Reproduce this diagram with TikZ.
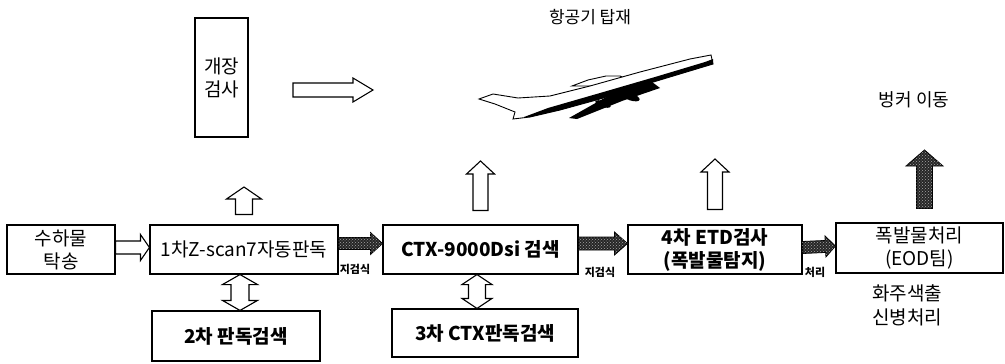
\documentclass[tikz,border=0pt]{standalone}
\usepackage{fontspec}
\newfontfamily\kr{Noto Sans CJK KR}
\usetikzlibrary{calc,patterns}

% block arrow #2 -> #3: half body #4, half head #5, head length #6
\newcommand\blockarrow[6][blockw]{%
 \draw[#1] let \p1=#2, \p2=#3, \n1={atan2(\y2-\y1,\x2-\x1)}, \n2={veclen(\x2-\x1,\y2-\y1)} in
  [shift={(\p1)},rotate=\n1]
  (0pt,#4) -- ({\n2*1pt-#6},#4) -- ({\n2*1pt-#6},#5) -- ({\n2*1pt},0pt)
  -- ({\n2*1pt-#6},-#5) -- ({\n2*1pt-#6},-#4) -- (0pt,-#4) -- cycle;}
% same with a head at both ends
\newcommand\blockdbl[6][blockw]{%
 \draw[#1] let \p1=#2, \p2=#3, \n1={atan2(\y2-\y1,\x2-\x1)}, \n2={veclen(\x2-\x1,\y2-\y1)} in
  [shift={(\p1)},rotate=\n1]
  (0pt,0pt) -- (#6,#5) -- (#6,#4) -- ({\n2*1pt-#6},#4) -- ({\n2*1pt-#6},#5) -- ({\n2*1pt},0pt)
  -- ({\n2*1pt-#6},-#5) -- ({\n2*1pt-#6},-#4) -- (#6,-#4) -- (#6,-#5) -- cycle;}

\begin{document}
\begin{tikzpicture}[x=1pt,y=-1pt,
 every node/.style={font=\kr},
 box/.style={draw,line width=1.1pt,inner sep=0pt,align=center,font=\kr\fontsize{19}{23}\selectfont},
 blockw/.style={draw,line width=1.1pt,fill=white},
 blockd/.style={draw,line width=.8pt,fill=black!85,postaction={pattern=crosshatch dots,pattern color=black!35}},
 tag/.style={font=\kr\bfseries\fontsize{11}{13}\selectfont}]
\useasboundingbox (0,0) rectangle (1005,364);

% upper part
\node[box,minimum width=53,minimum height=119] (gj) at (221.5,77.5) {개장\\검사};
\node[font=\kr\fontsize{17}{20}\selectfont] (load) at (590,17) {항공기 탑재};
\node[font=\kr\fontsize{18}{21}\selectfont] (bunker) at (914,100) {벙커 이동};
\coordinate (ga) at (293,90); \coordinate (gb) at (373,90);
\blockarrow{(ga)}{(gb)}{7pt}{12pt}{20pt}

% airplane: far wing, body, dark belly, near wing, engines
\filldraw[line width=.9pt,fill=white] (572,86) -- (588,80) -- (606,76) -- (620,76) -- (626,79) -- (596,86) -- cycle;
\filldraw[line width=.9pt,fill=white] (479,99) -- (493,94) -- (518,98) -- (550,96) -- (590,86) -- (640,72)
 -- (690,59) -- (711,55) -- (713,64) -- (650,83) -- (600,99) -- (560,110) -- (530,117)
 -- (513,119) -- (515,112) -- (495,104) -- cycle;
\fill (713,59) -- (713,64) -- (650,83) -- (600,99) -- (560,110) -- (530,117) -- (524,117)
 -- (548,108) -- (600,93) -- (655,77) -- (705,62) -- cycle;
\fill (652,82) -- (608,96) -- (569,118) -- (577,119) -- (622,101) -- (660,88) -- cycle;
\fill[rotate around={-18:(603,104)}] (603,104) ellipse (8 and 3);
\fill[rotate around={-18:(631,97)}] (631,97) ellipse (9 and 3.5);

% main line
\node[box,minimum width=108,minimum height=49] (suha) at (61,249.5) {수하물\\탁송};
\node[box,minimum width=188,minimum height=49] (z1) at (244,249.5) {1차Z-scan7자동판독};
\node[box,minimum width=195,minimum height=49,font=\kr\bfseries\fontsize{19}{23}\selectfont] (ctx) at (480.5,249.5) {CTX-9000Dsi 검색};
\node[box,minimum width=174,minimum height=49,font=\kr\bfseries\fontsize{19}{23}\selectfont] (etd) at (715,249.5) {4차 ETD검사\\(폭발물탐지)};
\node[box,minimum width=167,minimum height=50] (eod) at (919.5,248) {폭발물처리\\(EOD팀)};
\node[font=\kr\fontsize{19}{24}\selectfont,align=left] (owner) at (907,305) {화주색출\\신병처리};

% second checks
\node[box,minimum width=168,minimum height=50,font=\kr\bfseries\fontsize{19}{23}\selectfont] (r2) at (236,336) {2차 판독검색};
\node[box,minimum width=186,minimum height=48,font=\kr\bfseries\fontsize{19}{23}\selectfont] (r3) at (485,333) {3차 CTX판독검색};

\blockarrow{([yshift=2pt]suha.east)}{([yshift=2pt]z1.west)}{6.5pt}{13pt}{9pt}
\blockarrow[blockd]{([yshift=6pt]z1.east)}{([yshift=6pt]ctx.west)}{6pt}{11pt}{12pt}
\blockarrow[blockd]{([yshift=6pt]ctx.east)}{([yshift=6pt]etd.west)}{6.5pt}{11.5pt}{13pt}
\blockarrow[blockd]{([yshift=2pt]etd.east)}{([yshift=2pt]eod.west)}{6pt}{10.5pt}{10pt}
\node[tag] (t1) at (355,269) {지검식};
\node[tag] (t2) at (600,272) {지검식};
\node[tag] (t3) at (815,272) {처리};

% upward arrows
\coordinate (up1) at (244,187); \coordinate (up2) at (480.5,161);
\coordinate (up3) at (715,159); \coordinate (up4) at (924.5,150);
\blockarrow{([yshift=10pt]z1.north)}{(up1)}{8.5pt}{17.5pt}{12pt}
\blockarrow{([yshift=14pt]ctx.north)}{(up2)}{7.5pt}{14pt}{13pt}
\blockarrow{([yshift=15pt]etd.north)}{(up3)}{7.5pt}{14pt}{13pt}
\blockarrow[blockd]{([xshift=5pt,yshift=14pt]eod.north)}{(up4)}{8pt}{18.5pt}{16pt}

% to and from the second checks
\blockdbl{([xshift=-4pt]z1.south)}{([xshift=4pt]r2.north)}{9pt}{17.5pt}{10pt}
\blockdbl{([xshift=-3.5pt]ctx.south)}{([xshift=-8pt]r3.north)}{8.5pt}{15pt}{10pt}
\end{tikzpicture}
\end{document}
